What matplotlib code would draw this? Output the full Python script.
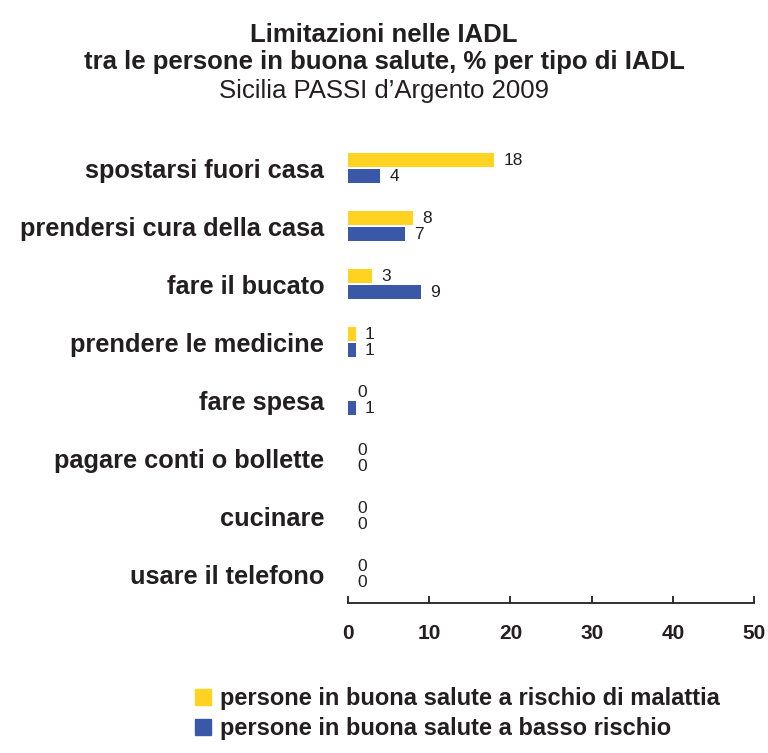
import numpy as np
import matplotlib.pyplot as plt
from matplotlib.patches import Patch

# data
categories = ['spostarsi fuori casa', 'prendersi cura della casa', 'fare il bucato',
              'prendere le medicine', 'fare spesa', 'pagare conti o bollette',
              'cucinare', 'usare il telefono']
rischio_malattia = [18, 8, 3, 1, 0, 0, 0, 0]
basso_rischio = [4, 7, 9, 1, 1, 0, 0, 0]
series_names = ['persone in buona salute a rischio di malattia',
                'persone in buona salute a basso rischio']
xticks = [0, 10, 20, 30, 40, 50]

yellow = '#FFD320'
blue = '#3B57A7'
txt = '#231F20'

plt.rcParams['font.family'] = ['Liberation Sans', 'DejaVu Sans']

fig = plt.figure(figsize=(7.68, 7.53), dpi=100)
ax = fig.add_axes([0.453, 0.199, 0.529, 0.616])

y = np.arange(len(categories))
h = 0.245
ax.barh(y - h/2 - 0.015, rischio_malattia, height=h, color=yellow)
ax.barh(y + h/2 + 0.015, basso_rischio, height=h, color=blue)

for yi, v in zip(y, rischio_malattia):
    ax.annotate(str(v), (v, yi - h/2 - 0.015), xytext=(6.5, 0), textcoords='offset points',
                ha='left', va='center', fontsize=12.5, color=txt)
for yi, v in zip(y, basso_rischio):
    ax.annotate(str(v), (v, yi + h/2 + 0.015), xytext=(6.5, 0), textcoords='offset points',
                ha='left', va='center', fontsize=12.5, color=txt)

ax.set_xlim(0, 50)
ax.set_ylim(len(categories) - 0.5, -0.5)
ax.set_xticks(xticks)
ax.set_xticklabels([str(t) for t in xticks], fontsize=15, fontweight='bold', color=txt)
ax.set_yticks(y)
ax.set_yticklabels(categories, fontsize=18.3, fontweight='bold', color=txt)
ax.tick_params(axis='y', length=0, pad=17)
ax.tick_params(axis='x', direction='in', length=5, width=1.3, pad=15, colors=txt)
for s in ['top', 'right', 'left']:
    ax.spines[s].set_visible(False)
ax.spines['bottom'].set_linewidth(1.3)
ax.spines['bottom'].set_color(txt)

fig.text(0.5, 1 - 35/753, 'Limitazioni nelle IADL', ha='center', va='center',
         fontsize=18.5, fontweight='bold', color=txt)
fig.text(0.5, 1 - 62/753, 'tra le persone in buona salute, % per tipo di IADL', ha='center',
         va='center', fontsize=18.5, fontweight='bold', color=txt)
fig.text(0.5, 1 - 91/753, 'Sicilia PASSI d\u2019Argento 2009', ha='center', va='center',
         fontsize=18.5, color=txt)

handles = [Patch(color=yellow), Patch(color=blue)]
fig.legend(handles, series_names, loc='center left', bbox_to_anchor=(0.226, 0.052),
           frameon=False, handlelength=0.7, handleheight=0.7, handletextpad=0.35,
           labelspacing=0.3, prop={'size': 17, 'weight': 'bold'}, labelcolor=txt)

fig.savefig('out.png', dpi=100)
